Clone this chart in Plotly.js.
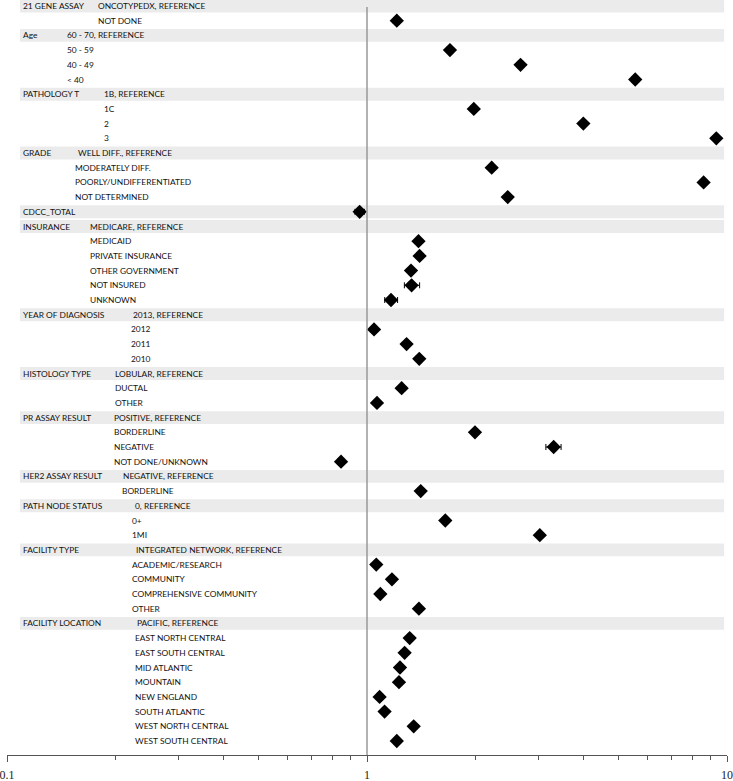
<!DOCTYPE html>
<html>
<head>
<meta charset="utf-8">
<script src="https://cdn.plot.ly/plotly-3.0.1.min.js"></script>
<style>html,body{margin:0;padding:0;background:#fff;}#chart{width:733px;height:781px;}</style>
</head>
<body>
<div id="chart"></div>
<script>
// ---- DATA ----
var rowGroup = ['21 GENE ASSAY','', 'Age','','','', 'PATHOLOGY T','','','', 'GRADE','','','', 'CDCC_TOTAL',
  'INSURANCE','','','','','', 'YEAR OF DIAGNOSIS','','','', 'HISTOLOGY TYPE','','', 'PR ASSAY RESULT','','','',
  'HER2 ASSAY RESULT','', 'PATH NODE STATUS','','', 'FACILITY TYPE','','','','', 'FACILITY LOCATION','','','','','','','',''];
var rowLabel = ['ONCOTYPEDX, REFERENCE','NOT DONE',
  '60 - 70, REFERENCE','50 - 59','40 - 49','< 40',
  '1B, REFERENCE','1C','2','3',
  'WELL DIFF., REFERENCE','MODERATELY DIFF.','POORLY/UNDIFFERENTIATED','NOT DETERMINED',
  '',
  'MEDICARE, REFERENCE','MEDICAID','PRIVATE INSURANCE','OTHER GOVERNMENT','NOT INSURED','UNKNOWN',
  '2013, REFERENCE','2012','2011','2010',
  'LOBULAR, REFERENCE','DUCTAL','OTHER',
  'POSITIVE, REFERENCE','BORDERLINE','NEGATIVE','NOT DONE/UNKNOWN',
  'NEGATIVE, REFERENCE','BORDERLINE',
  '0, REFERENCE','0+','1MI',
  'INTEGRATED NETWORK, REFERENCE','ACADEMIC/RESEARCH','COMMUNITY','COMPREHENSIVE COMMUNITY','OTHER',
  'PACIFIC, REFERENCE','EAST NORTH CENTRAL','EAST SOUTH CENTRAL','MID ATLANTIC','MOUNTAIN','NEW ENGLAND','SOUTH ATLANTIC','WEST NORTH CENTRAL','WEST SOUTH CENTRAL'];
var oddsRatio = [null,1.21, null,1.70,2.67,5.56, null,1.98,3.99,9.34, null,2.22,8.61,2.46, 0.954,
  null,1.39,1.40,1.325,1.33,1.166, null,1.046,1.288,1.397, null,1.248,1.066, null,1.995,3.30,0.847,
  null,1.41, null,1.65,3.02, null,1.061,1.173,1.089,1.394, null,1.314,1.272,1.235,1.227,1.084,1.119,1.348,1.21];
var ciLower = [null,1.20, null,1.68,2.63,5.45, null,1.96,3.94,9.20, null,2.20,8.45,2.43, 0.926,
  null,1.38,1.38,1.315,1.27,1.12, null,1.040,1.280,1.385, null,1.240,1.058, null,1.98,3.14,0.830,
  null,1.40, null,1.64,2.99, null,1.055,1.150,1.070,1.385, null,1.305,1.255,1.215,1.212,1.063,1.100,1.338,1.19];
var ciUpper = [null,1.22, null,1.72,2.71,5.67, null,2.00,4.04,9.48, null,2.24,8.77,2.49, 0.983,
  null,1.40,1.42,1.335,1.40,1.216, null,1.052,1.296,1.409, null,1.256,1.074, null,2.01,3.46,0.865,
  null,1.42, null,1.66,3.05, null,1.067,1.195,1.110,1.403, null,1.323,1.290,1.255,1.242,1.106,1.140,1.358,1.23];
var tickVals = [0.1, 1, 10];
var tickText = ['0.1', '1', '10'];

// ---- LAYOUT CONFIG (label indents, px) ----
var indents = {
  '21 GENE ASSAY':[96,96], 'Age':[65,65], 'PATHOLOGY T':[102,102], 'GRADE':[76,73], 'CDCC_TOTAL':[0,0],
  'INSURANCE':[88,88], 'YEAR OF DIAGNOSIS':[131,129], 'HISTOLOGY TYPE':[113,113], 'PR ASSAY RESULT':[112,112],
  'HER2 ASSAY RESULT':[121,120], 'PATH NODE STATUS':[133,130], 'FACILITY TYPE':[134,130], 'FACILITY LOCATION':[135,133]
};
var plotL = 7, plotW = 720;
function px2paper(p){ return (p - plotL) / plotW; }

var n = rowLabel.length;
var shapes = [], annotations = [];
var curGroup = null;
var font = {family: 'Lato, "Open Sans", sans-serif', size: 8.4, color: '#111'};
for (var i = 0; i < n; i++) {
  if (rowGroup[i]) {
    curGroup = rowGroup[i];
    shapes.push({type:'rect', xref:'paper', yref:'y', x0:px2paper(20), x1:px2paper(724), y0:i-0.44, y1:i+0.44,
      fillcolor:'#ebebeb', line:{width:0}, layer:'below'});
    annotations.push({xref:'paper', yref:'y', x:px2paper(21), y:i, text:rowGroup[i], showarrow:false,
      xanchor:'left', yanchor:'middle', font:font});
    if (rowLabel[i]) annotations.push({xref:'paper', yref:'y', x:px2paper(indents[curGroup][0]), y:i, text:rowLabel[i],
      showarrow:false, xanchor:'left', yanchor:'middle', font:font});
  } else {
    annotations.push({xref:'paper', yref:'y', x:px2paper(indents[curGroup][1]), y:i, text:rowLabel[i],
      showarrow:false, xanchor:'left', yanchor:'middle', font:font});
  }
}
// reference line at 1
shapes.push({type:'line', xref:'x', yref:'paper', x0:1, x1:1, y0:0, y1:(755-7)/755, line:{color:'#999', width:1.5}});

var xs = [], ys = [], ep = [], em = [];
for (var i = 0; i < n; i++) {
  if (oddsRatio[i] !== null) {
    xs.push(oddsRatio[i]); ys.push(i);
    ep.push(ciUpper[i] - oddsRatio[i]); em.push(oddsRatio[i] - ciLower[i]);
  }
}
var trace = {
  x: xs, y: ys, type:'scatter', mode:'markers',
  marker:{symbol:'diamond', size:11, color:'#000'},
  error_x:{type:'data', array:ep, arrayminus:em, visible:true, color:'#000', thickness:1, width:3},
  hoverinfo:'x'
};

var layout = {
  width:733, height:781,
  margin:{l:plotL, r:733 - plotL - plotW, t:0, b:26, pad:0},
  paper_bgcolor:'#fff', plot_bgcolor:'#fff',
  showlegend:false,
  xaxis:{type:'log', range:[-1, 1], tickvals:tickVals, ticktext:tickText, ticks:'outside', ticklen:6,
    tickcolor:'#555', showline:true, linecolor:'#555', linewidth:1, showgrid:false, zeroline:false,
    ticklabelstandoff:3, ticklabeloverflow:'allow', automargin:false,
    minor:{ticks:'outside', ticklen:4, tickcolor:'#555', dtick:'D1', showgrid:false},
    tickfont:{family:'"Liberation Serif", serif', size:12, color:'#222'}},
  yaxis:{range:[(755-6)/14.7, -6/14.7], showgrid:false, zeroline:false, showticklabels:false, ticks:'', showline:false},
  shapes:shapes, annotations:annotations
};
Plotly.newPlot('chart', [trace], layout, {staticPlot:true, displayModeBar:false});
</script>
</body>
</html>
